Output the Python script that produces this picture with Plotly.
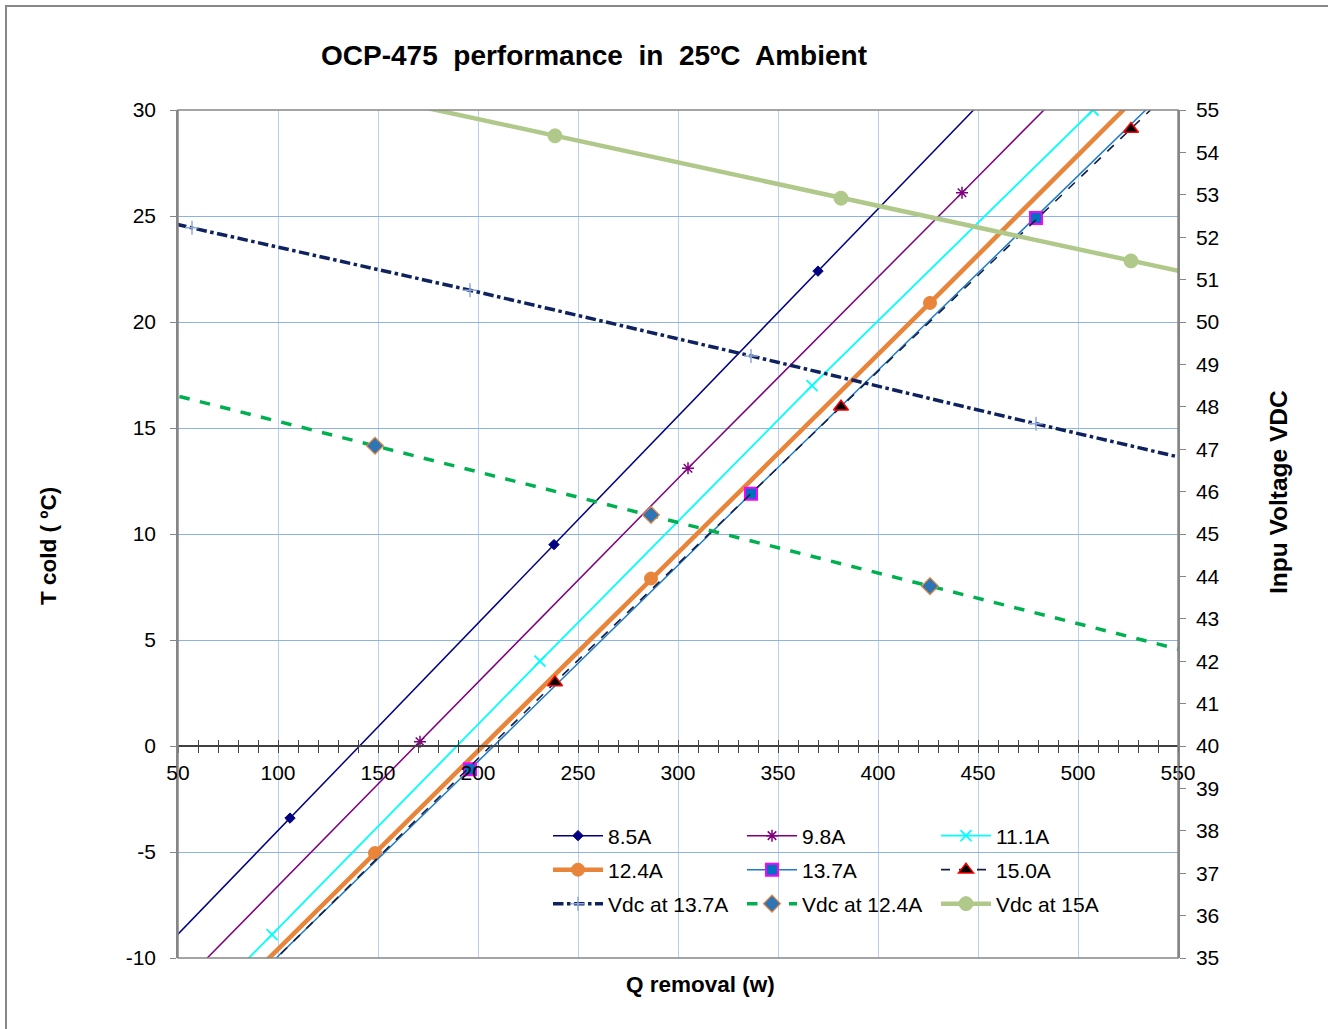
import plotly.graph_objects as go

# ---------------- data ----------------
q_85 = [-26, 106, 238, 370, 502]
t_85 = [-16.3, -3.4, 9.5, 22.4, 35.3]

q_98 = [35.5, 171, 305, 442, 577.5]
t_98 = [-12.8, 0.2, 13.1, 26.1, 39.0]

q_111 = [-37, 97, 231, 367, 507.5, 646]
t_111 = [-21.6, -8.9, 4.0, 17.0, 30.0, 43.0]

q_124 = [10, 148.5, 286.5, 426, 564]
t_124 = [-18.0, -5.05, 7.9, 20.9, 33.9]

q_137 = [54.5, 196, 336.5, 479, 620]
t_137 = [-14.1, -1.1, 11.9, 24.9, 37.9]

q_150 = [95, 238.5, 381.5, 526.5, 670]
t_150 = [-10.4, 3.0, 16.0, 29.1, 42.1]

q_vdc137 = [-84, 57, 196, 336.5, 479, 620]
v_vdc137 = [53.75, 52.22, 50.75, 49.2, 47.6, 46.05]

q_vdc124 = [10, 148.5, 286.5, 426, 564]
v_vdc124 = [48.73, 47.08, 45.45, 43.77, 42.12]

q_vdc150 = [95, 238.5, 381.5, 526.5, 670]
v_vdc150 = [55.86, 54.39, 52.92, 51.44, 49.98]

x_ticks = [50, 100, 150, 200, 250, 300, 350, 400, 450, 500, 550]
yl_ticks = [-10, -5, 0, 5, 10, 15, 20, 25, 30]
yl_labels = ["-10", "-5", "0", "5", "10", "15", "20", "25", "30"]
yr_ticks = list(range(35, 56))

FONT = "Arial, 'Liberation Sans', sans-serif"

fig = go.Figure()

def add(name, x, y, color, width, dash, symbol, msize, mcolor, mline_color, mline_w, legend, yaxis="y"):
    fig.add_trace(go.Scatter(
        x=x, y=y, name=name, mode="lines+markers", yaxis=yaxis, legend=legend,
        line=dict(color=color, width=width, dash=dash),
        marker=dict(symbol=symbol, size=msize, color=mcolor,
                    line=dict(color=mline_color, width=mline_w)),
    ))

add("8.5A", q_85, t_85, "#000080", 1.5, "solid", "diamond", 8, "#000080", "#000080", 1, "legend")
add("9.8A", q_98, t_98, "#800080", 1.5, "solid", "asterisk-open", 10, "#800080", "#800080", 1.5, "legend")
add("11.1A", q_111, t_111, "#00FFFF", 1.8, "solid", "x-thin-open", 11, "#00FFFF", "#00FFFF", 1.8, "legend")
add("12.4A", q_124, t_124, "#E8853A", 4.5, "solid", "circle", 13, "#E8853A", "#E8853A", 1, "legend2")
add("13.7A", q_137, t_137, "#1F7BC8", 1.5, "solid", "square", 12, "#0070C0", "#FF00FF", 2, "legend2")
add("15.0A", q_150, t_150, "#141E45", 1.6, "dash", "triangle-up", 13, "#000000", "#FF0000", 1.5, "legend2")
add("Vdc at 13.7A", q_vdc137, v_vdc137, "#0F2260", 3.5, "dashdot", "cross-thin-open", 10, "#8EA9DB", "#8EA9DB", 1.5, "legend3", "y2")
add("Vdc at 12.4A", q_vdc124, v_vdc124, "#00B050", 3.5, "dash", "diamond", 13, "#2E75B6", "#E8853A", 1.2, "legend3", "y2")
add("Vdc at 15A", q_vdc150, v_vdc150, "#B0C98A", 4.5, "solid", "circle", 14, "#B0C98A", "#B0C98A", 1, "legend3", "y2")

# invisible trace to activate overlay x axis for tick crosses
fig.add_trace(go.Scatter(x=[50], y=[0], xaxis="x3", mode="markers", showlegend=False,
                         marker=dict(opacity=0), hoverinfo="skip"))

L, R, T, B = 178, 150, 110, 71
W, H = 1328, 1029
pw, ph = W - L - R, H - T - B

def px(xp):
    return (xp - L) / pw

def py(yp):
    return (H - B - yp) / ph

y0pos = 10 / 40  # y=0 within [-10, 30]

legend_common = dict(orientation="h", entrywidth=129, entrywidthmode="pixels",
                     bgcolor="rgba(0,0,0,0)", font=dict(family=FONT, size=21, color="#000"),
                     itemwidth=50, xanchor="left", yanchor="middle", tracegroupgap=0)

fig.update_layout(
    width=W, height=H,
    margin=dict(l=L, r=R, t=T, b=B),
    paper_bgcolor="white", plot_bgcolor="white",
    font=dict(family=FONT, size=21, color="#000"),
    xaxis=dict(range=[50, 550], tickvals=x_ticks, showgrid=True, gridcolor="#B8D0F0", gridwidth=1,
               anchor="free", position=y0pos, showline=True, linecolor="#404040", linewidth=1.5,
               ticks="outside", ticklen=6, tickcolor="#404040", tickwidth=1.2,
               minor=dict(dtick=10, ticks="outside", ticklen=6, tickcolor="#404040", showgrid=False),
               zeroline=False, tickfont=dict(size=21), ticklabelstandoff=2),
    xaxis3=dict(range=[50, 550], overlaying="x", anchor="free", position=y0pos, dtick=10,
                ticks="inside", ticklen=6, tickcolor="#404040", tickwidth=1.2, showticklabels=False,
                showgrid=False, zeroline=False, showline=False),
    yaxis=dict(range=[-10, 30], tickvals=yl_ticks, ticktext=yl_labels, showgrid=True,
               gridcolor="#8DB3E2", gridwidth=1,
               showline=True, linecolor="#868686", linewidth=1.5, ticks="outside", ticklen=6,
               tickcolor="#868686", zeroline=False, tickfont=dict(size=21), ticklabelstandoff=10),
    yaxis2=dict(range=[35, 55], tickvals=yr_ticks, overlaying="y", side="right", showgrid=False,
                showline=True, linecolor="#868686", linewidth=1.5, ticks="outside", ticklen=6,
                tickcolor="#868686", zeroline=False, tickfont=dict(size=21), ticklabelstandoff=6),
    legend=dict(x=px(548), y=py(836), **legend_common),
    legend2=dict(x=px(548), y=py(870), **legend_common),
    legend3=dict(x=px(548), y=py(904), **legend_common),
    showlegend=True,
)

fig.add_shape(type="rect", xref="paper", yref="paper", x0=0, x1=1, y0=0, y1=1,
              line=dict(color="#868686", width=1.5), layer="above")
fig.add_shape(type="rect", xref="paper", yref="paper", x0=px(6), x1=px(1345), y0=py(1045), y1=py(6),
              line=dict(color="#888888", width=2), layer="above")

fig.add_annotation(text="<b>OCP-475&nbsp; performance&nbsp; in&nbsp; 25ºC&nbsp; Ambient</b>",
                   xref="paper", yref="paper",
                   x=px(594), y=py(55), showarrow=False, font=dict(size=28, family=FONT),
                   xanchor="center", yanchor="middle")
fig.add_annotation(text="<b>T cold ( ºC)</b>", xref="paper", yref="paper",
                   x=px(48), y=py(546), showarrow=False, textangle=-90, font=dict(size=22.5, family=FONT),
                   xanchor="center", yanchor="middle")
fig.add_annotation(text="<b>Inpu Voltage VDC</b>", xref="paper", yref="paper",
                   x=px(1278), y=py(492), showarrow=False, textangle=-90, font=dict(size=24.5, family=FONT),
                   xanchor="center", yanchor="middle")
fig.add_annotation(text="<b>Q removal (w)</b>", xref="paper", yref="paper",
                   x=px(700), y=py(984), showarrow=False, font=dict(size=22.5, family=FONT),
                   xanchor="center", yanchor="middle")

fig.write_html("out.html", config={"displayModeBar": False},
               post_script="document.body.style.margin='0';")
